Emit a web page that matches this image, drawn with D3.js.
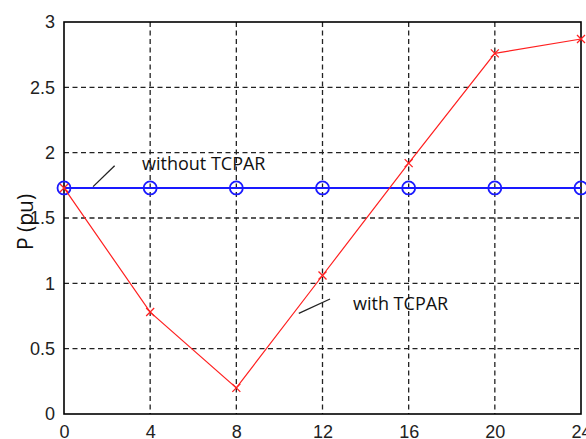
<!DOCTYPE html>
<html><head><meta charset="utf-8">
<script src="https://cdn.jsdelivr.net/npm/d3@7"></script>
<style>body{margin:0;background:#fff;} svg{display:block;}</style>
</head><body>
<svg id="c" width="586" height="439"></svg>
<script>
const xTicks = [0, 4, 8, 12, 16, 20, 24];
const yTicks = [0, 0.5, 1, 1.5, 2, 2.5, 3];
const hours = [0, 4, 8, 12, 16, 20, 24];
const withoutTCPAR = [1.73, 1.73, 1.73, 1.73, 1.73, 1.73, 1.73];
const withTCPAR = [1.73, 0.78, 0.2, 1.06, 1.92, 2.76, 2.87];
const yLabel = "P (pu)";
const labelWithout = "without TCPAR";
const labelWith = "with TCPAR";

const svg = d3.select("#c");
const L = 64, R = 581, T = 22, B = 414;
const x = d3.scaleLinear().domain([0, 24]).range([L, R]);
const y = d3.scaleLinear().domain([0, 3]).range([B, T]);
const font = "'Open Sans', 'Liberation Sans', sans-serif";
const tickFont = "'Liberation Sans', Arial, sans-serif";

// grid
const g = svg.append("g");
g.selectAll(".vg").data(xTicks.slice(1, -1)).enter().append("line")
  .attr("x1", d => x(d)).attr("x2", d => x(d)).attr("y1", T).attr("y2", B)
  .attr("stroke", "#222").attr("stroke-width", 1.3).attr("stroke-dasharray", "5,3.5");
g.selectAll(".hg").data(yTicks.slice(1, -1)).enter().append("line")
  .attr("y1", d => y(d)).attr("y2", d => y(d)).attr("x1", L).attr("x2", R)
  .attr("stroke", "#222").attr("stroke-width", 1.3).attr("stroke-dasharray", "5,3.5");

// axes
const xAxis = d3.axisBottom(x).tickValues(xTicks).tickSize(0).tickPadding(11);
const yAxis = d3.axisLeft(y).tickValues(yTicks).tickSize(0).tickPadding(9)
  .tickFormat(d => d3.format("")(d));
const xa = svg.append("g").attr("transform", `translate(0,${B})`).call(xAxis);
const ya = svg.append("g").attr("transform", `translate(${L},0)`).call(yAxis);
[xa, ya].forEach(a => {
  a.select(".domain").remove();
  a.selectAll("text").attr("font-family", tickFont).attr("font-size", 18).attr("fill", "#222");
});
// box
svg.append("rect").attr("x", L).attr("y", T).attr("width", R - L).attr("height", B - T)
  .attr("fill", "none").attr("stroke", "#000").attr("stroke-width", 1.6);

// blue series
const line = d3.line().x((d, i) => x(hours[i])).y(d => y(d));
svg.append("path").datum(withoutTCPAR).attr("d", line)
  .attr("fill", "none").attr("stroke", "#1a1aff").attr("stroke-width", 2);
svg.selectAll(".bc").data(withoutTCPAR).enter().append("circle")
  .attr("cx", (d, i) => x(hours[i])).attr("cy", d => y(d)).attr("r", 6.5)
  .attr("fill", "none").attr("stroke", "#1a1aff").attr("stroke-width", 1.8);

// red series
svg.append("path").datum(withTCPAR).attr("d", line)
  .attr("fill", "none").attr("stroke", "#ff2020").attr("stroke-width", 1.2);
const s = 4;
svg.selectAll(".rx").data(withTCPAR).enter().append("path")
  .attr("d", (d, i) => {
    const cx = x(hours[i]), cy = y(d);
    return `M${cx - s},${cy - s}L${cx + s},${cy + s}M${cx - s},${cy + s}L${cx + s},${cy - s}`;
  })
  .attr("stroke", "#ff2020").attr("stroke-width", 1.3);

// annotations
svg.append("line").attr("x1", x(1.35)).attr("y1", y(1.74)).attr("x2", x(2.35)).attr("y2", y(1.9))
  .attr("stroke", "#222").attr("stroke-width", 1.3);
svg.append("text").attr("x", 142).attr("y", 170).text(labelWithout)
  .attr("font-family", font).attr("font-size", 18).attr("fill", "#111");
svg.append("line").attr("x1", x(10.9)).attr("y1", y(0.77)).attr("x2", x(12.35)).attr("y2", y(0.88))
  .attr("stroke", "#222").attr("stroke-width", 1.3);
svg.append("text").attr("x", 353).attr("y", 310).text(labelWith)
  .attr("font-family", font).attr("font-size", 18).attr("fill", "#111");

// y label
svg.append("text").attr("transform", "translate(33,222) rotate(-90)")
  .attr("text-anchor", "middle").text(yLabel)
  .attr("font-family", font).attr("font-size", 21).attr("fill", "#111");
</script>
</body></html>
